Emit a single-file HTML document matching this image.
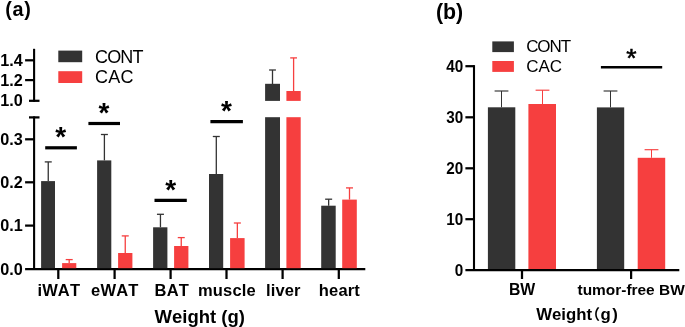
<!DOCTYPE html><html><head><meta charset="utf-8"><title>Weight chart</title><style>html,body{margin:0;padding:0;background:#fff}svg{display:block}text{font-family:"Liberation Sans",sans-serif;fill:#000;font-kerning:none}.b{font-weight:bold}.cj{font-family:"Liberation Sans","Noto Sans CJK SC",sans-serif}</style></head><body>
<svg width="685" height="327" viewBox="0 0 685 327">
<rect width="685" height="327" fill="#fff"/>
<text x="5.3" y="15.8" font-size="19.8" class="b" text-anchor="start" letter-spacing="0.7">(a)</text>
<line x1="34.1" y1="48.8" x2="34.1" y2="101.8" stroke="#000" stroke-width="2.1"/>
<line x1="25.1" y1="60.3" x2="34.1" y2="60.3" stroke="#000" stroke-width="2.25"/>
<line x1="25.1" y1="80.1" x2="34.1" y2="80.1" stroke="#000" stroke-width="2.25"/>
<line x1="29" y1="100.8" x2="39.5" y2="100.8" stroke="#000" stroke-width="2.25"/>
<line x1="34.1" y1="116.4" x2="34.1" y2="270" stroke="#000" stroke-width="2.1"/>
<line x1="29" y1="117.4" x2="39.5" y2="117.4" stroke="#000" stroke-width="2.25"/>
<line x1="25.1" y1="139.3" x2="34.1" y2="139.3" stroke="#000" stroke-width="2.25"/>
<line x1="25.1" y1="182.3" x2="34.1" y2="182.3" stroke="#000" stroke-width="2.25"/>
<line x1="25.1" y1="225.6" x2="34.1" y2="225.6" stroke="#000" stroke-width="2.25"/>
<line x1="25.1" y1="269.1" x2="365.3" y2="269.1" stroke="#000" stroke-width="2.25"/>
<line x1="58.3" y1="269" x2="58.3" y2="279.0" stroke="#000" stroke-width="2.25"/>
<line x1="114.6" y1="269" x2="114.6" y2="279.0" stroke="#000" stroke-width="2.25"/>
<line x1="170.6" y1="269" x2="170.6" y2="279.0" stroke="#000" stroke-width="2.25"/>
<line x1="226.5" y1="269" x2="226.5" y2="279.0" stroke="#000" stroke-width="2.25"/>
<line x1="282.6" y1="269" x2="282.6" y2="279.0" stroke="#000" stroke-width="2.25"/>
<line x1="338.8" y1="269" x2="338.8" y2="279.0" stroke="#000" stroke-width="2.25"/>
<text x="22.8" y="66.2" font-size="16.2" class="b" text-anchor="end" >1.4</text>
<text x="22.8" y="85.89999999999999" font-size="16.2" class="b" text-anchor="end" >1.2</text>
<text x="22.8" y="106.39999999999999" font-size="16.2" class="b" text-anchor="end" >1.0</text>
<text x="22.8" y="144.9" font-size="16.2" class="b" text-anchor="end" >0.3</text>
<text x="22.8" y="187.9" font-size="16.2" class="b" text-anchor="end" >0.2</text>
<text x="22.8" y="231.2" font-size="16.2" class="b" text-anchor="end" >0.1</text>
<text x="22.8" y="275.1" font-size="16.2" class="b" text-anchor="end" >0.0</text>
<rect x="58.3" y="50.6" width="23.9" height="11.6" fill="#333333"/>
<rect x="58.3" y="71.2" width="23.9" height="11.8" fill="#F63F3F"/>
<text x="95.1" y="62.7" font-size="18" class="" text-anchor="start" letter-spacing="-0.9">CONT</text>
<text x="95.1" y="83.1" font-size="18" class="" text-anchor="start" letter-spacing="0.2">CAC</text>
<line x1="48.25" y1="161.9" x2="48.25" y2="181.1" stroke="#333333" stroke-width="1.3"/>
<line x1="44.75" y1="161.9" x2="51.75" y2="161.9" stroke="#333333" stroke-width="1.3"/>
<rect x="41.1" y="181.1" width="13.9" height="87.1" fill="#333333"/>
<line x1="69.19999999999999" y1="259.6" x2="69.19999999999999" y2="263.1" stroke="#F63F3F" stroke-width="1.3"/>
<line x1="65.69999999999999" y1="259.6" x2="72.69999999999999" y2="259.6" stroke="#F63F3F" stroke-width="1.3"/>
<rect x="62.099999999999994" y="263.1" width="14.2" height="5.1" fill="#F63F3F"/>
<line x1="104.4" y1="134.5" x2="104.4" y2="160.4" stroke="#333333" stroke-width="1.3"/>
<line x1="100.9" y1="134.5" x2="107.9" y2="134.5" stroke="#333333" stroke-width="1.3"/>
<rect x="97.1" y="160.4" width="14.2" height="107.8" fill="#333333"/>
<line x1="125.25" y1="235.9" x2="125.25" y2="253" stroke="#F63F3F" stroke-width="1.3"/>
<line x1="121.75" y1="235.9" x2="128.75" y2="235.9" stroke="#F63F3F" stroke-width="1.3"/>
<rect x="118.1" y="253" width="14.3" height="15.2" fill="#F63F3F"/>
<line x1="160.45" y1="214.3" x2="160.45" y2="227.3" stroke="#333333" stroke-width="1.3"/>
<line x1="156.95" y1="214.3" x2="163.95" y2="214.3" stroke="#333333" stroke-width="1.3"/>
<rect x="153.1" y="227.3" width="14.3" height="40.9" fill="#333333"/>
<line x1="181.25" y1="237.6" x2="181.25" y2="246" stroke="#F63F3F" stroke-width="1.3"/>
<line x1="177.75" y1="237.6" x2="184.75" y2="237.6" stroke="#F63F3F" stroke-width="1.3"/>
<rect x="174.10000000000002" y="246" width="14.3" height="22.2" fill="#F63F3F"/>
<line x1="216.3" y1="136.5" x2="216.3" y2="174" stroke="#333333" stroke-width="1.3"/>
<line x1="212.8" y1="136.5" x2="219.8" y2="136.5" stroke="#333333" stroke-width="1.3"/>
<rect x="209.0" y="174" width="14.2" height="94.2" fill="#333333"/>
<line x1="237.35000000000002" y1="223" x2="237.35000000000002" y2="238.1" stroke="#F63F3F" stroke-width="1.3"/>
<line x1="233.85000000000002" y1="223" x2="240.85000000000002" y2="223" stroke="#F63F3F" stroke-width="1.3"/>
<rect x="230.10000000000002" y="238.1" width="14.5" height="30.1" fill="#F63F3F"/>
<line x1="328.65" y1="199.2" x2="328.65" y2="205.7" stroke="#333333" stroke-width="1.3"/>
<line x1="325.15" y1="199.2" x2="332.15" y2="199.2" stroke="#333333" stroke-width="1.3"/>
<rect x="321.20000000000005" y="205.7" width="14.5" height="62.5" fill="#333333"/>
<line x1="349.5" y1="187.9" x2="349.5" y2="199.6" stroke="#F63F3F" stroke-width="1.3"/>
<line x1="346.0" y1="187.9" x2="353.0" y2="187.9" stroke="#F63F3F" stroke-width="1.3"/>
<rect x="342.2" y="199.6" width="14.6" height="68.6" fill="#F63F3F"/>
<line x1="272.5" y1="70.0" x2="272.5" y2="84" stroke="#333333" stroke-width="1.3"/>
<line x1="269.1" y1="70.0" x2="275.9" y2="70.0" stroke="#333333" stroke-width="1.3"/>
<rect x="265.1" y="83.8" width="14.9" height="17.1" fill="#333333"/>
<rect x="265.1" y="117.2" width="14.9" height="151.0" fill="#333333"/>
<line x1="293.6" y1="57.9" x2="293.6" y2="91" stroke="#F63F3F" stroke-width="1.3"/>
<line x1="290.20000000000005" y1="57.9" x2="297.0" y2="57.9" stroke="#F63F3F" stroke-width="1.3"/>
<rect x="286.4" y="91" width="14.3" height="9.9" fill="#F63F3F"/>
<rect x="286.4" y="117.2" width="14.3" height="151.0" fill="#F63F3F"/>
<line x1="45.2" y1="147.8" x2="76.9" y2="147.8" stroke="#000" stroke-width="3.2"/>
<text x="60.8" y="146.0" font-size="28" class="b" text-anchor="middle" >*</text>
<line x1="88.4" y1="123.5" x2="120" y2="123.5" stroke="#000" stroke-width="3.2"/>
<text x="104" y="122.0" font-size="28" class="b" text-anchor="middle" >*</text>
<line x1="154.5" y1="200.4" x2="186.8" y2="200.4" stroke="#000" stroke-width="3.2"/>
<text x="170.6" y="199.0" font-size="28" class="b" text-anchor="middle" >*</text>
<line x1="210.4" y1="121.7" x2="242.9" y2="121.7" stroke="#000" stroke-width="3.2"/>
<text x="226.5" y="120.0" font-size="28" class="b" text-anchor="middle" >*</text>
<text x="58.8" y="296.0" font-size="16.5" class="b" text-anchor="middle" letter-spacing="0.15">iWAT</text>
<text x="114.8" y="296.0" font-size="16.5" class="b" text-anchor="middle" letter-spacing="0.15">eWAT</text>
<text x="171.8" y="296.0" font-size="16.5" class="b" text-anchor="middle" letter-spacing="0.15">BAT</text>
<text x="226.9" y="296.0" font-size="16.5" class="b" text-anchor="middle" letter-spacing="0.15">muscle</text>
<text x="283.3" y="296.0" font-size="16.5" class="b" text-anchor="middle" letter-spacing="0.15">liver</text>
<text x="339.4" y="296.0" font-size="16.5" class="b" text-anchor="middle" letter-spacing="0.15">heart</text>
<text x="154.5" y="323" font-size="18.5" class="b" text-anchor="start" >Weight (g)</text>
<text x="435.9" y="19.2" font-size="21.3" class="b" text-anchor="start" >(b)</text>
<line x1="474.0" y1="65.1" x2="474.0" y2="271" stroke="#000" stroke-width="2.1"/>
<line x1="465.4" y1="66.2" x2="474.0" y2="66.2" stroke="#000" stroke-width="2.25"/>
<line x1="465.4" y1="117.3" x2="474.0" y2="117.3" stroke="#000" stroke-width="2.25"/>
<line x1="465.4" y1="168.3" x2="474.0" y2="168.3" stroke="#000" stroke-width="2.25"/>
<line x1="465.4" y1="219.2" x2="474.0" y2="219.2" stroke="#000" stroke-width="2.25"/>
<line x1="465.4" y1="270.1" x2="679.3" y2="270.1" stroke="#000" stroke-width="2.25"/>
<line x1="522" y1="270" x2="522" y2="279.0" stroke="#000" stroke-width="2.25"/>
<line x1="631.1" y1="270" x2="631.1" y2="279.0" stroke="#000" stroke-width="2.25"/>
<text transform="translate(463.2,72.0) scale(0.955,1)" font-size="16.0" class="b" text-anchor="end">40</text>
<text transform="translate(463.2,123.1) scale(0.955,1)" font-size="16.0" class="b" text-anchor="end">30</text>
<text transform="translate(463.2,174.1) scale(0.955,1)" font-size="16.0" class="b" text-anchor="end">20</text>
<text transform="translate(463.2,225.0) scale(0.955,1)" font-size="16.0" class="b" text-anchor="end">10</text>
<text transform="translate(463.2,275.9) scale(0.955,1)" font-size="16.0" class="b" text-anchor="end">0</text>
<rect x="492.3" y="41.4" width="21.6" height="10.7" fill="#333333"/>
<rect x="492.3" y="61" width="21.6" height="10.9" fill="#F63F3F"/>
<text x="526.2" y="52.3" font-size="17" class="" text-anchor="start" letter-spacing="-1.1">CONT</text>
<text x="526.2" y="71.75" font-size="17" class="" text-anchor="start" letter-spacing="0">CAC</text>
<line x1="501.5" y1="91" x2="501.5" y2="107.3" stroke="#333333" stroke-width="1.05"/>
<line x1="494.6" y1="91" x2="508.4" y2="91" stroke="#333333" stroke-width="1.15"/>
<rect x="487.9" y="107.3" width="27.4" height="161.7" fill="#333333"/>
<line x1="542.5" y1="90.2" x2="542.5" y2="104" stroke="#F63F3F" stroke-width="1.05"/>
<line x1="535.6" y1="90.2" x2="549.4" y2="90.2" stroke="#F63F3F" stroke-width="1.15"/>
<rect x="528.4" y="104" width="27.6" height="165" fill="#F63F3F"/>
<line x1="610.5" y1="91" x2="610.5" y2="107.4" stroke="#333333" stroke-width="1.05"/>
<line x1="603.6" y1="91" x2="617.4" y2="91" stroke="#333333" stroke-width="1.15"/>
<rect x="596.9" y="107.4" width="27.3" height="161.6" fill="#333333"/>
<line x1="651.5" y1="149.7" x2="651.5" y2="157.8" stroke="#F63F3F" stroke-width="1.05"/>
<line x1="644.6" y1="149.7" x2="658.4" y2="149.7" stroke="#F63F3F" stroke-width="1.15"/>
<rect x="637.7" y="157.8" width="27.5" height="111.2" fill="#F63F3F"/>
<line x1="600.9" y1="67.2" x2="662.2" y2="67.2" stroke="#000" stroke-width="2.5"/>
<text x="631.5" y="67.0" font-size="26.5" class="" text-anchor="middle" stroke="#000" stroke-width="0.55">*</text>
<text x="522.1" y="295.3" font-size="15.8" class="b" text-anchor="middle" >BW</text>
<text x="577.5" y="295.3" font-size="15.45" class="b" text-anchor="start" >tumor-free BW</text>
<text x="536.2" y="320.4" font-size="16.8" class="b cj">Weight<tspan font-size="14.5" dy="-0.5" dx="-6.6">（</tspan><tspan dy="0.5" dx="0.4">g</tspan><tspan dx="1.5">)</tspan></text>
</svg></body></html>
